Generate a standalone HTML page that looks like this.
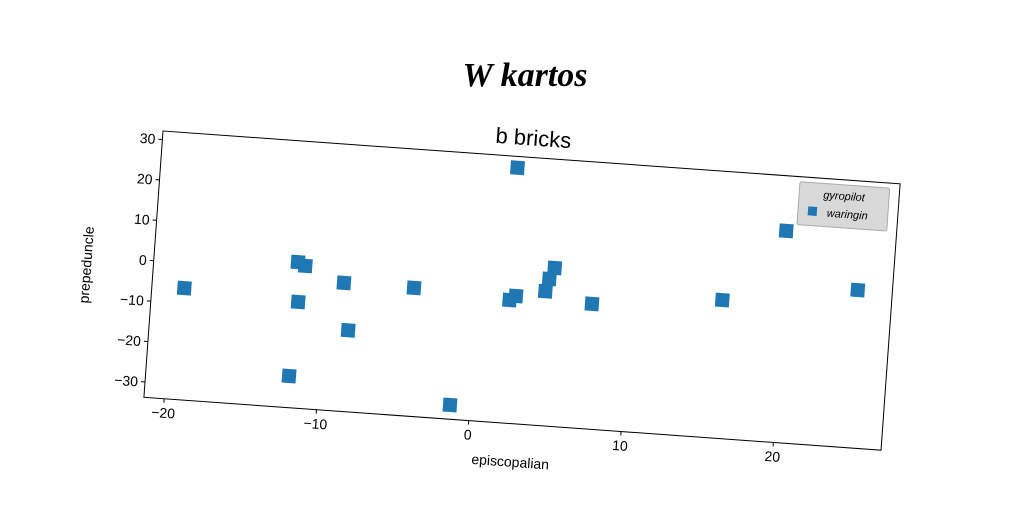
<!DOCTYPE html>
<html><head><meta charset="utf-8"><style>
html,body{margin:0;padding:0;background:#fff;}
svg{display:block;font-family:"Liberation Sans",sans-serif;}
</style></head><body>
<svg id="chart" width="1024" height="512">
<text x="525" y="86" text-anchor="middle" font-family="'Liberation Serif',serif" font-style="italic" font-weight="bold" font-size="34" fill="#000">W kartos</text>
<g id="plot" transform="translate(163,131) rotate(4.1)">
<rect x="0" y="0" width="739" height="267" fill="#fff" stroke="#000" stroke-width="1"/>
<text x="370" y="-12" text-anchor="middle" font-size="22">b bricks</text>
<g id="xticks"></g><g id="yticks"></g><g id="marks"></g>
<text x="370" y="310" text-anchor="middle" font-size="14">episcopalian</text>
<text transform="translate(-62,139) rotate(-90)" text-anchor="middle" font-size="14">prepeduncle</text>
<g>
<rect x="639" y="5" width="90" height="43" rx="2" fill="#d8d8d8" stroke="#aaa"/>
<text x="684" y="20" text-anchor="middle" font-size="11" font-style="italic">gyropilot</text>
<rect x="649" y="29" width="9" height="9" fill="#1f77b4"/>
<text x="668" y="38" font-size="11" font-style="italic">waringin</text>
</g>
</g>
</svg>
<script>
const xTicks = [-20, -10, 0, 10, 20];
const yTicks = [30, 20, 10, 0, -10, -20, -30];
const xVals = [-19.2, -11.9, -11.4, -11.7, -8.8, -8.3, -11.95, -4.2, 2.0, 2.1, 2.5, 4.4, 4.6, 4.9, 7.5, 16.0, 19.85, 24.8, -1.3];
const yVals = [-6.2, 2.2, 1.4, -7.6, -2.1, -13.7, -26.0, -2.1, 29.3, -3.4, -2.3, -0.6, 2.5, 5.3, -2.9, 0.35, 18.5, 5.2, -30.3];
const W = 739, H = 267, xMin = -21.33, xMax = 27.07, yMin = -33.8, yMax = 32.1;
const sx = v => (v - xMin) / (xMax - xMin) * W;
const sy = v => (yMax - v) / (yMax - yMin) * H;
const NS = "http://www.w3.org/2000/svg";
const xg = document.getElementById('xticks'), yg = document.getElementById('yticks'), mg = document.getElementById('marks');
xTicks.forEach(t => {
  const l = document.createElementNS(NS, 'line');
  l.setAttribute('x1', sx(t)); l.setAttribute('x2', sx(t)); l.setAttribute('y1', H); l.setAttribute('y2', H + 4);
  l.setAttribute('stroke', '#000');
  
  
  xg.appendChild(l);
  const tx = document.createElementNS(NS, 'text');
  tx.setAttribute('x', sx(t)); tx.setAttribute('y', H + 19); tx.setAttribute('text-anchor', 'middle'); tx.setAttribute('font-size', '14');
  tx.textContent = t < 0 ? '\u2212' + Math.abs(t) : t;
  
  
  xg.appendChild(tx);
});
yTicks.forEach(t => {
  const l = document.createElementNS(NS, 'line');
  l.setAttribute('x1', -4); l.setAttribute('x2', 0); l.setAttribute('y1', sy(t)); l.setAttribute('y2', sy(t));
  l.setAttribute('stroke', '#000');
  
  
  yg.appendChild(l);
  const tx = document.createElementNS(NS, 'text');
  tx.setAttribute('x', -7); tx.setAttribute('y', sy(t) + 5); tx.setAttribute('text-anchor', 'end'); tx.setAttribute('font-size', '14');
  tx.textContent = t < 0 ? '\u2212' + Math.abs(t) : t;
  
  
  yg.appendChild(tx);
});
xVals.forEach((v, i) => {
  const r = document.createElementNS(NS, 'rect');
  r.setAttribute('x', sx(v) - 7); r.setAttribute('y', sy(yVals[i]) - 7);
  r.setAttribute('width', 14); r.setAttribute('height', 14); r.setAttribute('fill', '#1f77b4');
  
  
  mg.appendChild(r);
});
</script>
</body></html>
